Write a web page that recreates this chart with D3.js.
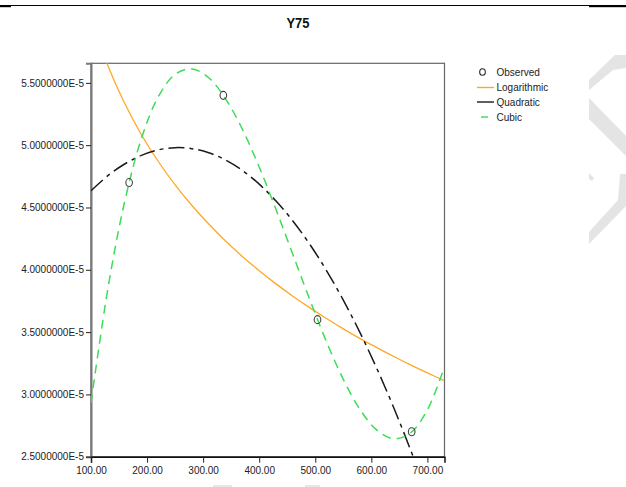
<!DOCTYPE html>
<html><head><meta charset="utf-8">
<script src="https://cdn.jsdelivr.net/npm/d3@7/dist/d3.min.js"></script>
<style>
html,body{margin:0;padding:0;background:#fff;}
svg{display:block;font-family:"Liberation Sans",Arial,sans-serif;}
</style></head>
<body>
<svg id="chart" width="626" height="487"></svg>
<script>
// ---- data (y values in units of 1E-5) ----
const title = "Y75";
const obsX = [168, 336, 504, 672];
const obsY = [4.7, 5.4, 3.6, 2.7];
const fitX = [100,130,160,190,220,250,280,310,340,370,400,430,460,490,520,550,580,610,640,670,700,730];
const logY = [6.025,5.640,5.336,5.084,4.869,4.682,4.516,4.367,4.231,4.107,3.993,3.887,3.788,3.696,3.609,3.526,3.448,3.375,3.304,3.237,3.173,3.111];
const quadY = [4.634,4.755,4.849,4.918,4.962,4.980,4.972,4.939,4.881,4.797,4.687,4.552,4.392,4.206,3.994,3.757,3.494,3.206,2.893,2.554,2.189,1.799];
const cubicY = [2.931,3.845,4.546,5.054,5.389,5.568,5.612,5.541,5.372,5.128,4.825,4.483,4.123,3.763,3.422,3.121,2.877,2.713,2.644,2.692,2.876,3.216];
const xTicks = [100,200,300,400,500,600,700];
const xTickLabels = ["100.00","200.00","300.00","400.00","500.00","600.00","700.00"];
const yTicks = [2.5,3.0,3.5,4.0,4.5,5.0,5.5];
const yTickLabels = ["2.5000000E-5","3.0000000E-5","3.5000000E-5","4.0000000E-5","4.5000000E-5","5.0000000E-5","5.5000000E-5"];
const legendNames = ["Observed","Logarithmic","Quadratic","Cubic"];

const svg = d3.select("#chart");
const L = 91, R = 444.5, T = 63.3, B = 456.7;
const x = d3.scaleLinear().domain([100, 730.5]).range([L, R]);
const y = d3.scaleLinear().domain([2.5, 5.657]).range([B, T]);

// top rule
svg.append("line").attr("x1",0).attr("x2",626).attr("y1",5.5).attr("y2",5.5).attr("stroke","#000").attr("stroke-width",1.2);
svg.append("rect").attr("x",0).attr("y",5).attr("width",11).attr("height",2.2).attr("fill","#000");
svg.append("rect").attr("x",589).attr("y",5).attr("width",37).attr("height",2.2).attr("fill","#000");

// watermark
const wm = [
  [[589,80],[615,55],[626,55],[626,68],[613,70],[589,90]],
  [[589,98],[626,136],[626,156],[589,119]],
  [[620,174],[626,174],[626,206],[589,244],[589,232],[618,200]],
  [[589,173],[594,178],[592,181],[589,179]]
];
svg.append("g").selectAll("path").data(wm).join("path")
  .attr("d", d => d3.line()(d) + "Z").attr("fill","#e4e4e4");
svg.append("rect").attr("x",213).attr("y",485).attr("width",19).attr("height",2).attr("fill","#e6e6e6");
svg.append("rect").attr("x",305).attr("y",485).attr("width",15).attr("height",2).attr("fill","#e6e6e6");

// title
svg.append("text").attr("x",298).attr("y",28).attr("text-anchor","middle")
  .attr("font-size",15).attr("font-weight","bold").attr("textLength",23).attr("lengthAdjust","spacingAndGlyphs")
  .attr("fill","#111").text(title);

// frame
svg.append("rect").attr("x",L).attr("y",T).attr("width",R-L).attr("height",B-T)
  .attr("fill","none").attr("stroke","#666").attr("stroke-width",1.2);

// axes
const yAxis = d3.axisLeft(y).tickValues(yTicks).tickSize(5).tickPadding(2)
  .tickFormat((d,i) => yTickLabels[i]);
const gy = svg.append("g").attr("transform",`translate(${L},0)`).call(yAxis);
gy.select(".domain").attr("stroke","#777").attr("stroke-width",2);
gy.selectAll(".tick line").attr("stroke","#222");
gy.selectAll("text").attr("font-size",10).attr("fill","#222").attr("font-family","Liberation Sans, Arial, sans-serif");

const xAxis = d3.axisBottom(x).tickValues(xTicks).tickSize(6).tickPadding(4)
  .tickFormat((d,i) => xTickLabels[i]);
const gx = svg.append("g").attr("transform",`translate(0,${B})`).call(xAxis);
gx.select(".domain").attr("stroke","#111").attr("stroke-width",1.5);
gx.selectAll(".tick line").attr("stroke","#222");
gx.selectAll("text").attr("font-size",10).attr("fill","#222").attr("font-family","Liberation Sans, Arial, sans-serif");

// clip
svg.append("clipPath").attr("id","plotclip").append("rect")
  .attr("x",L).attr("y",T).attr("width",R-L).attr("height",B-T);
const plot = svg.append("g").attr("clip-path","url(#plotclip)");

const line = ys => d3.line().curve(d3.curveCatmullRom.alpha(0.5))
  .x((d,i) => x(fitX[i])).y(d => y(d))(ys);

plot.append("path").attr("d", line(logY)).attr("fill","none")
  .attr("stroke","#ffa826").attr("stroke-width",1.3);
plot.append("path").attr("d", line(quadY)).attr("fill","none")
  .attr("stroke","#1a1a1a").attr("stroke-width",1.5).attr("stroke-dasharray","16,5,4,5");
plot.append("path").attr("d", line(cubicY)).attr("fill","none")
  .attr("stroke","#3ddc55").attr("stroke-width",1.5).attr("stroke-dasharray","9,6");

plot.selectAll("ellipse.obs").data(obsX).join("ellipse").attr("class","obs")
  .attr("cx", d => x(d)).attr("cy", (d,i) => y(obsY[i]))
  .attr("rx",3.3).attr("ry",4).attr("fill","none").attr("stroke","#444").attr("stroke-width",1.1);

// legend
const lg = svg.append("g");
const rowY = [72, 87.5, 102, 117];
lg.append("ellipse").attr("cx",482.5).attr("cy",rowY[0]).attr("rx",2.8).attr("ry",3.3)
  .attr("fill","none").attr("stroke","#222").attr("stroke-width",1.1);
lg.append("line").attr("x1",477).attr("x2",494).attr("y1",rowY[1]).attr("y2",rowY[1]).attr("stroke","#ffa826").attr("stroke-width",1.4);
lg.append("line").attr("x1",477).attr("x2",494).attr("y1",rowY[2]).attr("y2",rowY[2]).attr("stroke","#1a1a1a").attr("stroke-width",1.4);
lg.append("line").attr("x1",481).attr("x2",488).attr("y1",rowY[3]).attr("y2",rowY[3]).attr("stroke","#3ddc55").attr("stroke-width",1.4);
lg.selectAll("text").data(legendNames).join("text")
  .attr("x",496.5).attr("y",(d,i) => rowY[i] + 3.6)
  .attr("font-size",10).attr("fill","#222").text(d => d);
</script>
</body></html>
